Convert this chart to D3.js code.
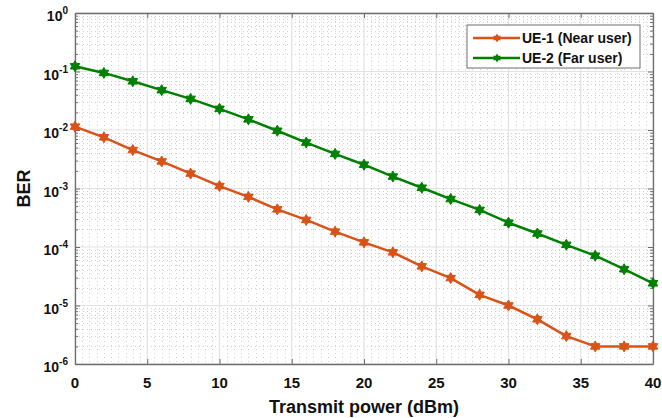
<!DOCTYPE html>
<html>
<head>
<meta charset="utf-8">
<script src="https://cdn.jsdelivr.net/npm/d3@7"></script>
<style>
  body { margin: 0; background: #fff; }
  svg { display: block; font-family: "Liberation Sans", Arial, sans-serif; }
</style>
</head>
<body>
<div id="chart"></div>
<script>
// transmit power (dBm)
const power = [0, 2, 4, 6, 8, 10, 12, 14, 16, 18, 20, 22, 24, 26, 28, 30, 32, 34, 36, 38, 40];
// UE-1 near user BER
const berNear = [0.0114, 0.0075, 0.00454, 0.0029, 0.0018, 0.0011, 0.00072, 0.00044, 0.00029, 0.000183,
  0.00012, 0.000081, 0.0000467, 0.0000294, 0.0000152, 0.00001, 0.0000058, 0.000003, 0.000002, 0.000002, 0.000002];
// UE-2 far user BER
const berFar = [0.123, 0.0946, 0.068, 0.048, 0.034, 0.023, 0.0152, 0.0097, 0.0061, 0.0039,
  0.00255, 0.0016, 0.00103, 0.00066, 0.00043, 0.00026, 0.00017, 0.000109, 0.000071, 0.0000417, 0.000024];
const seriesNames = ["UE-1 (Near user)", "UE-2 (Far user)"];
const seriesColors = ["#d95319", "#008000"];
const xTicks = [0, 5, 10, 15, 20, 25, 30, 35, 40];
const yExponents = [0, -1, -2, -3, -4, -5, -6];

const W = 662, H = 418;
const margin = {top: 13, right: 9, bottom: 54, left: 75};
const width = W - margin.left - margin.right;
const height = H - margin.top - margin.bottom;

const svg = d3.select("#chart").append("svg")
  .attr("width", W).attr("height", H);
const g = svg.append("g")
  .attr("transform", `translate(${margin.left},${margin.top})`);

const x = d3.scaleLinear().domain([0, 40]).range([0, width]);
const y = d3.scaleLog().domain([1e-6, 1]).range([height, 0]);

// minor grid values
const xMinor = d3.range(0, 40.01, 0.5).filter(v => v % 5 !== 0);
const yMinor = [];
yExponents.slice(1).forEach(e => {
  for (let m = 2; m <= 9; m++) yMinor.push(m * Math.pow(10, e));
});

// dotted minor grid
g.append("g").selectAll("line").data(xMinor).join("line")
  .attr("x1", d => Math.round(x(d)) + 0.5).attr("x2", d => Math.round(x(d)) + 0.5)
  .attr("y1", 0).attr("y2", height)
  .attr("stroke", "#d2d2d2").attr("stroke-width", 1)
  .attr("stroke-dasharray", "1,3");
g.append("g").selectAll("line").data(yMinor).join("line")
  .attr("x1", 0).attr("x2", width)
  .attr("y1", d => Math.round(y(d)) + 0.5).attr("y2", d => Math.round(y(d)) + 0.5)
  .attr("stroke", "#d2d2d2").attr("stroke-width", 1)
  .attr("stroke-dasharray", "1,3");

// solid major grid
g.append("g").selectAll("line").data(xTicks).join("line")
  .attr("x1", d => x(d)).attr("x2", d => x(d))
  .attr("y1", 0).attr("y2", height)
  .attr("stroke", "#e2e2e2").attr("stroke-width", 1.2);
g.append("g").selectAll("line").data(yExponents).join("line")
  .attr("x1", 0).attr("x2", width)
  .attr("y1", d => y(Math.pow(10, d))).attr("y2", d => y(Math.pow(10, d)))
  .attr("stroke", "#e2e2e2").attr("stroke-width", 1.2);

// axes with inward ticks
const axisColor = "#6e6e6e";
g.append("g").attr("transform", `translate(0,${height})`)
  .call(d3.axisBottom(x).tickValues(xTicks).tickSizeInner(-5).tickSizeOuter(0).tickFormat(""));
g.append("g")
  .call(d3.axisTop(x).tickValues(xTicks).tickSizeInner(-5).tickSizeOuter(0).tickFormat(""));
g.append("g")
  .call(d3.axisLeft(y).tickValues(yExponents.map(e => Math.pow(10, e))).tickSizeInner(-5).tickSizeOuter(0).tickFormat(""));
g.append("g").attr("transform", `translate(${width},0)`)
  .call(d3.axisRight(y).tickValues(yExponents.map(e => Math.pow(10, e))).tickSizeInner(-5).tickSizeOuter(0).tickFormat(""));
g.append("g")
  .call(d3.axisLeft(y).tickValues(yMinor).tickSizeInner(-3).tickSizeOuter(0).tickFormat(""))
  .select(".domain").remove();
g.append("g").attr("transform", `translate(${width},0)`)
  .call(d3.axisRight(y).tickValues(yMinor).tickSizeInner(-3).tickSizeOuter(0).tickFormat(""))
  .select(".domain").remove();
g.selectAll(".domain, .tick line").attr("stroke", axisColor);
g.selectAll(".domain").attr("stroke-width", 1.3);

// x tick labels
g.append("g").selectAll("text").data(xTicks).join("text")
  .attr("x", d => x(d)).attr("y", height + 24)
  .attr("text-anchor", "middle")
  .attr("font-size", 15).attr("font-weight", "bold").attr("fill", "#111")
  .text(d => d);

// y tick labels: 10^e
const yl = g.append("g").selectAll("text").data(yExponents).join("text")
  .attr("x", -7).attr("y", d => y(Math.pow(10, d)) + 8)
  .attr("text-anchor", "end")
  .attr("font-weight", "bold").attr("fill", "#111");
yl.append("tspan").attr("font-size", 14).text("10");
yl.append("tspan").attr("font-size", 10).attr("dy", -7).text(d => d);

// axis titles
svg.append("text")
  .attr("x", margin.left + width / 2).attr("y", 413)
  .attr("text-anchor", "middle")
  .attr("font-size", 18).attr("font-weight", "bold").attr("fill", "#111")
  .text("Transmit power (dBm)");
svg.append("text")
  .attr("transform", `translate(30,${margin.top + height / 2}) rotate(-90)`)
  .attr("text-anchor", "middle")
  .attr("font-size", 18).attr("font-weight", "bold").attr("fill", "#111")
  .text("BER");

// hexagram marker
function hexagram(r) {
  const pts = [];
  for (let i = 0; i < 12; i++) {
    const a = -Math.PI / 2 + i * Math.PI / 6;
    const rr = i % 2 === 0 ? r : r * 0.58;
    pts.push([rr * Math.cos(a), rr * Math.sin(a)]);
  }
  return "M" + pts.map(p => p.join(",")).join("L") + "Z";
}

const line = d3.line().x(d => x(d[0])).y(d => y(d[1]));
[berNear, berFar].forEach((vals, i) => {
  const data = power.map((p, j) => [p, vals[j]]);
  g.append("path").datum(data)
    .attr("fill", "none").attr("stroke", seriesColors[i])
    .attr("stroke-width", 2.5).attr("stroke-linejoin", "round")
    .attr("d", line);
  g.append("g").selectAll("path").data(data).join("path")
    .attr("transform", d => `translate(${x(d[0])},${y(d[1])})`)
    .attr("d", hexagram(5.5))
    .attr("fill", seriesColors[i]).attr("stroke", seriesColors[i]).attr("stroke-width", 1);
});

// legend
const lg = svg.append("g").attr("transform", "translate(467,25)");
lg.append("rect").attr("width", 173).attr("height", 43)
  .attr("fill", "#fff").attr("stroke", "#6e6e6e").attr("stroke-width", 1);
seriesNames.forEach((name, i) => {
  const cy = 13 + i * 20;
  lg.append("line").attr("x1", 6).attr("x2", 53).attr("y1", cy).attr("y2", cy)
    .attr("stroke", seriesColors[i]).attr("stroke-width", 2.5);
  lg.append("path").attr("transform", `translate(30,${cy})`)
    .attr("d", hexagram(4.5)).attr("fill", seriesColors[i]);
  lg.append("text").attr("x", 55).attr("y", cy + 5)
    .attr("font-size", 14).attr("font-weight", "bold").attr("fill", "#111")
    .text(name);
});
</script>
</body>
</html>
